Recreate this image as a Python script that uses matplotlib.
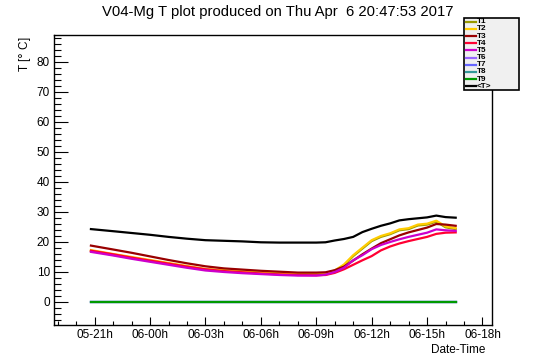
import numpy as np
import pandas as pd
import matplotlib
matplotlib.use("Agg")
import matplotlib.pyplot as plt
import matplotlib.dates as mdates
from matplotlib.lines import Line2D
from matplotlib.patches import Rectangle

plt.rcParams['font.family'] = ['Liberation Sans', 'DejaVu Sans']

W, H = 546, 362

# sample times, hours from 2017-04-06 00:00
hours = [-3.2, -2, -1, 0, 1, 2, 3, 4, 5, 6, 7, 8, 9, 9.5, 10, 10.5, 11,
         11.5, 12, 12.5, 13, 13.5, 14, 14.5, 15, 15.5, 16, 16.55]

T1 = [17.0, 15.7, 14.7, 13.7, 12.7, 11.7, 10.8, 10.4, 10.0, 9.6, 9.4, 9.1,
      9.1, 9.4, 10.3, 12.2, 15.3, 17.8, 20.3, 21.7, 22.6, 23.9, 24.3, 25.5,
      25.8, 26.8, 24.9, 24.3]
T2 = [17.3, 16.0, 15.0, 14.0, 13.0, 12.0, 11.0, 10.6, 10.2, 9.8, 9.6, 9.3,
      9.3, 9.6, 10.5, 12.5, 15.6, 18.1, 20.6, 22.0, 22.9, 24.2, 24.6, 25.8,
      26.1, 27.1, 25.2, 24.6]
T3 = [18.8, 17.5, 16.4, 15.2, 14.0, 12.9, 11.9, 11.2, 10.8, 10.4, 10.1, 9.8,
      9.8, 9.9, 10.6, 11.8, 13.8, 15.9, 17.8, 19.6, 20.9, 22.2, 23.2, 24.0,
      24.8, 26.0, 25.8, 25.4]
T4 = [17.1, 15.9, 14.8, 13.8, 12.8, 11.8, 10.9, 10.3, 9.9, 9.5, 9.2, 9.0,
      8.9, 9.0, 9.7, 10.9, 12.4, 13.9, 15.3, 17.2, 18.5, 19.5, 20.3, 21.0,
      21.7, 22.7, 23.1, 23.2]
T5 = [16.7, 15.5, 14.4, 13.4, 12.4, 11.4, 10.5, 10.0, 9.6, 9.3, 9.0, 8.8,
      8.8, 9.1, 10.0, 11.4, 13.9, 15.6, 17.6, 19.0, 20.0, 20.9, 21.7, 22.4,
      23.1, 24.2, 23.9, 23.7]
T6 = [0.0] * len(hours)
T7 = [0.0] * len(hours)
T8 = [0.0] * len(hours)
T9 = [0.0] * len(hours)
Tavg = [24.3, 23.6, 23.0, 22.4, 21.7, 21.1, 20.6, 20.4, 20.2, 19.9, 19.8,
        19.8, 19.8, 19.9, 20.5, 21.0, 21.7, 23.3, 24.4, 25.4, 26.2, 27.2,
        27.6, 27.9, 28.2, 28.8, 28.3, 28.1]

labels = ['T1', 'T2', 'T3', 'T4', 'T5', 'T6', 'T7', 'T8', 'T9', '<T>']
colors = ['#999900', '#ffcc00', '#990000', '#ff0033', '#cc00cc',
          '#9966ff', '#6666ff', '#339999', '#009900', '#000000']
series = [T1, T2, T3, T4, T5, T6, T7, T8, T9, Tavg]

base = pd.Timestamp('2017-04-06 00:00')
times = base + pd.to_timedelta(hours, unit='h')

fig = plt.figure(figsize=(W / 100, H / 100), dpi=100)
ax = fig.add_axes([54 / W, 1 - 325 / H, (491.7 - 54) / W, (325 - 35) / H])

for vals, c in zip(series, colors):
    ax.plot(times, vals, color=c, lw=1.6)

ax.set_xlim(base + pd.Timedelta(hours=-5.2), base + pd.Timedelta(hours=18.5))
ax.set_ylim(-7.67, 89.0)

ax.xaxis.set_major_locator(mdates.HourLocator(byhour=range(0, 24, 3)))
ax.xaxis.set_minor_locator(mdates.HourLocator())
ax.xaxis.set_major_formatter(mdates.DateFormatter('%d-%Hh'))
ax.yaxis.set_major_locator(plt.MultipleLocator(10))
ax.yaxis.set_minor_locator(plt.MultipleLocator(2))

ax.tick_params(axis='both', which='both', direction='in', top=False,
               right=False, labelsize=8.5, width=0.8, color='black')
ax.tick_params(axis='y', which='major', length=10, pad=3)
ax.tick_params(axis='y', which='minor', length=5)
ax.tick_params(axis='x', which='major', length=5.8, pad=3)
ax.tick_params(axis='x', which='minor', length=2.9)
for sp in ax.spines.values():
    sp.set_linewidth(1.0)

fig.text(278 / W, 1 - 12 / H, 'V04-Mg T plot produced on Thu Apr  6 20:47:53 2017',
         ha='center', va='center', fontsize=10.7)
fig.text(25 / W, 1 - 36 / H, 'T [$\\degree$ C]', rotation=90,
         ha='center', va='top', fontsize=8.5)
fig.text(485 / W, 1 - 350 / H, 'Date-Time', ha='right', va='center',
         fontsize=8.5)

# legend box drawn by hand, in figure pixels
box = Rectangle((464 / W, 1 - 90.3 / H), (518.7 - 464) / W, (90.3 - 18.3) / H,
                transform=fig.transFigure, facecolor='#f0f0f0',
                edgecolor='black', lw=1.2, zorder=5)
fig.add_artist(box)
for i, (lab, c) in enumerate(zip(labels, colors)):
    y = 1 - (21.7 + 7.18 * i) / H
    fig.add_artist(Line2D([466 / W, 476 / W], [y, y], color=c, lw=1.6,
                          transform=fig.transFigure, zorder=6))
    fig.text(477 / W, y, lab, ha='left', va='center', fontsize=5.9,
             fontweight='bold', zorder=6)

fig.savefig('out.png', dpi=100)
